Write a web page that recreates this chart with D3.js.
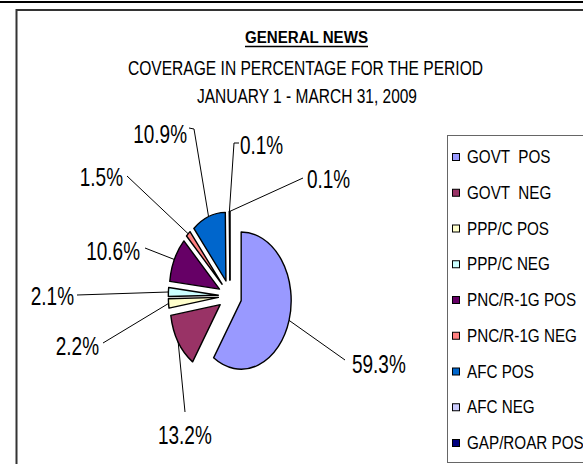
<!DOCTYPE html>
<html>
<head>
<meta charset="utf-8">
<script src="https://cdn.jsdelivr.net/npm/d3@7"></script>
<style>
  html, body { margin: 0; padding: 0; background: #fff; }
  svg { display: block; }
</style>
</head>
<body>
<svg id="chart" width="583" height="464"></svg>
<script>
// Coverage shares, January 1 - March 31, 2009
const categories = ["GOVT  POS", "GOVT  NEG", "PPP/C POS", "PPP/C NEG", "PNC/R-1G POS",
                    "PNC/R-1G NEG", "AFC POS", "AFC NEG", "GAP/ROAR POS"];
const shares = [59.3, 13.2, 2.2, 2.1, 10.6, 1.5, 10.9, 0.1, 0.1];
const sliceColors = ["#9999FF", "#993366", "#FFFFCC", "#CCFFFF", "#660066",
                     "#FF8080", "#0066CC", "#CCCCFF", "#000080"];
const titleLines = ["GENERAL NEWS", "COVERAGE IN PERCENTAGE FOR THE PERIOD", "JANUARY 1 - MARCH 31, 2009"];

// Label placement: text anchor point, side, leader start and optional elbow
const labelLayout = [
  { x: 352, y: 373, anchor: "start", lead: [345, 360] },
  { x: 158, y: 444, anchor: "start", lead: [185, 412] },
  { x: 99,  y: 355, anchor: "end",   lead: [103, 343] },
  { x: 74,  y: 305, anchor: "end",   lead: [77, 295] },
  { x: 140, y: 260, anchor: "end",   lead: [145, 248] },
  { x: 123, y: 186, anchor: "end",   lead: [127, 176] },
  { x: 187, y: 143, anchor: "end",   lead: [189, 128], elbow: [194, 129] },
  { x: 240, y: 154, anchor: "start", lead: [239, 143], elbow: [234, 143] },
  { x: 307, y: 188, anchor: "start", lead: [303, 178] }
];

const svg = d3.select("#chart");
const font = "'Liberation Sans', Arial, sans-serif";

// Outer frame
svg.append("line").attr("x1", 0).attr("x2", 583).attr("y1", 2).attr("y2", 2)
  .attr("stroke", "#000").attr("stroke-width", 2);
svg.append("rect").attr("x", 16.5).attr("y", 10).attr("width", 600).attr("height", 500)
  .attr("fill", "#fff").attr("stroke", "#333").attr("stroke-width", 2);

// Titles
svg.append("text").attr("x", 306.5).attr("y", 43)
  .attr("text-anchor", "middle").attr("font-family", font).attr("font-weight", "bold")
  .attr("font-size", 16).attr("textLength", 123).attr("lengthAdjust", "spacingAndGlyphs")
  .text(titleLines[0]);
svg.append("line").attr("x1", 245).attr("x2", 368).attr("y1", 46.5).attr("y2", 46.5)
  .attr("stroke", "#000").attr("stroke-width", 1.5);
svg.append("text").attr("x", 305.5).attr("y", 75)
  .attr("text-anchor", "middle").attr("font-family", font)
  .attr("font-size", 19.5).attr("textLength", 355).attr("lengthAdjust", "spacingAndGlyphs")
  .text(titleLines[1]);
svg.append("text").attr("x", 307).attr("y", 103)
  .attr("text-anchor", "middle").attr("font-family", font)
  .attr("font-size", 19.5).attr("textLength", 220).attr("lengthAdjust", "spacingAndGlyphs")
  .text(titleLines[2]);

// Pie geometry (drawn in circle space, then squeezed horizontally)
const cx = 230, cy = 296, squeeze = 0.729;
const radius = 68.6, explode = 16;

const pie = d3.pie().sort(null).value(d => d).startAngle(0).endAngle(2 * Math.PI);
const arcs = pie(shares);
const arc = d3.arc().innerRadius(0).outerRadius(radius);

const mid = a => (a.startAngle + a.endAngle) / 2;
// point on the exploded slice rim, in page coordinates
function rimPoint(a) {
  const m = mid(a), r = radius + explode;
  return [cx + squeeze * r * Math.sin(m), cy - r * Math.cos(m)];
}

// Leader lines (under the slices)
const leaders = svg.append("g").attr("fill", "none").attr("stroke", "#000").attr("stroke-width", 1);
arcs.forEach((a, i) => {
  const L = labelLayout[i];
  const pts = [L.lead];
  if (L.elbow) pts.push(L.elbow);
  pts.push(rimPoint(a));
  leaders.append("path").attr("d", d3.line()(pts));
});

// Slices
const pieG = svg.append("g").attr("transform", `translate(${cx},${cy}) scale(${squeeze},1)`);
pieG.selectAll("path.slice").data(arcs).join("path")
  .attr("class", "slice")
  .attr("transform", a => `translate(${explode * Math.sin(mid(a))},${-explode * Math.cos(mid(a))})`)
  .attr("d", arc)
  .attr("fill", (a, i) => sliceColors[i])
  .attr("stroke", "#000").attr("stroke-width", 1.4)
  .attr("stroke-linejoin", "round")
  .attr("vector-effect", "non-scaling-stroke");

// Percentage labels
const fmt = v => d3.format(".1f")(v) + "%";
arcs.forEach((a, i) => {
  const L = labelLayout[i];
  svg.append("text")
    .attr("transform", `translate(${L.x},${L.y}) scale(0.73,1)`)
    .attr("text-anchor", L.anchor)
    .attr("font-family", font).attr("font-size", 26).attr("fill", "#000")
    .text(fmt(a.data));
});

// Legend
svg.append("rect").attr("x", 447.5).attr("y", 135.5).attr("width", 200).attr("height", 327)
  .attr("fill", "#fff").attr("stroke", "#666").attr("stroke-width", 1);
const rowY = d3.scalePoint().domain(categories).range([157, 443]);
const legend = svg.append("g");
categories.forEach((c, i) => {
  const y = rowY(c);
  legend.append("rect").attr("x", 452.5).attr("y", y - 3.5).attr("width", 7).attr("height", 7)
    .attr("fill", sliceColors[i]).attr("stroke", "#000").attr("stroke-width", 1);
  legend.append("text")
    .attr("transform", `translate(467,${y + 6}) scale(0.87,1)`)
    .attr("font-family", font).attr("font-size", 17.5)
    .style("white-space", "pre")
    .text(c);
});
</script>
</body>
</html>
